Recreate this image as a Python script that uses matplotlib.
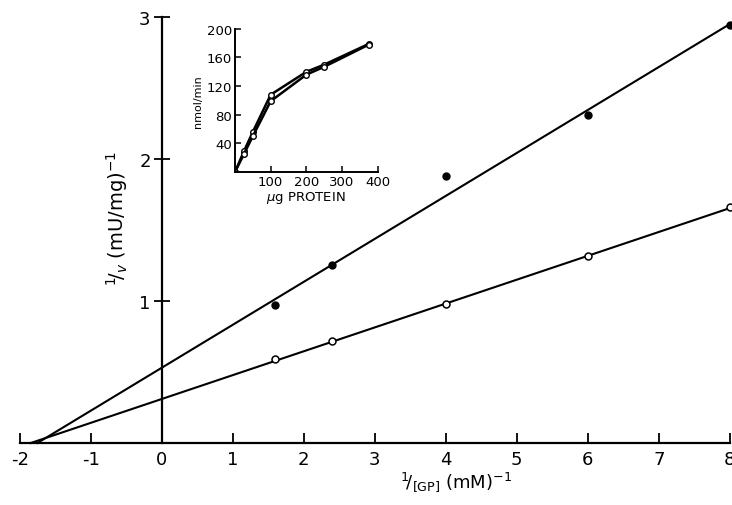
import numpy as np
import matplotlib
matplotlib.use('Agg')
import matplotlib.pyplot as plt

# Lineweaver-Burk data
inv_gp = [1.6, 2.4, 4.0, 6.0, 8.0]
inv_v_filled = [0.97, 1.25, 1.88, 2.31, 2.94]
inv_v_open = [0.59, 0.72, 0.98, 1.32, 1.66]

# fitted lines (intercept, slope)
fit_filled = (0.53, 0.3025)
fit_open = (0.31, 0.1680)

# inset: activity vs protein
protein = [0, 25, 50, 100, 200, 250, 375]
rate_a = [0, 29, 56, 108, 140, 150, 179]
rate_b = [0, 25, 50, 99, 136, 147, 178]

x_ticks = [-2, -1, 0, 1, 2, 3, 4, 5, 6, 7, 8]
y_ticks = [1, 2, 3]
inset_x_ticks = [100, 200, 300, 400]
inset_y_ticks = [40, 80, 120, 160, 200]

plt.rcParams['font.family'] = 'DejaVu Sans'

fig = plt.figure(figsize=(7.32, 5.06), dpi=100)
ax = fig.add_axes([0.027, 0.1225, 0.970, 0.842])

for (b, m) in (fit_filled, fit_open):
    x0 = -b / m
    xs = np.array([x0, 8.0])
    ax.plot(xs, b + m * xs, color='black', lw=1.5, clip_on=False)

ax.plot(inv_gp, inv_v_filled, 'o', color='black', ms=5, clip_on=False)
ax.plot(inv_gp, inv_v_open, 'o', mfc='white', mec='black', mew=1.1, ms=5,
        clip_on=False)

ax.set_xlim(-2, 8)
ax.set_ylim(0, 3)
ax.spines['left'].set_position(('data', 0))
ax.spines['top'].set_visible(False)
ax.spines['right'].set_visible(False)
for s in ('left', 'bottom'):
    ax.spines[s].set_linewidth(1.6)

ax.set_xticks(x_ticks)
ax.set_xticklabels([str(t) for t in x_ticks])
ax.set_yticks(y_ticks)
ax.tick_params(axis='x', direction='in', length=7, width=1.3, labelsize=13, pad=5)
ax.tick_params(axis='y', direction='inout', length=12, width=1.3, labelsize=13, pad=2)

ax.set_xlabel(r'$^1\!/_{[\mathrm{GP}]}$ (mM)$^{-1}$', fontsize=13)
ax.xaxis.set_label_coords(0.614, -0.062)
ax.set_ylabel(r'$^1\!/_v$ (mU/mg)$^{-1}$', fontsize=14)
ax.yaxis.set_label_coords(0.155, 0.53)

# inset
ins = fig.add_axes([0.321, 0.658, 0.195, 0.283])
ins.plot(protein, rate_a, '-o', color='black', lw=1.8, ms=4, mfc='white',
         mec='black', mew=1.0)
ins.plot(protein, rate_b, '-o', color='black', lw=1.8, ms=4, mfc='white',
         mec='black', mew=1.0)
ins.set_xlim(0, 400)
ins.set_ylim(0, 200)
ins.spines['top'].set_visible(False)
ins.spines['right'].set_visible(False)
for s in ('left', 'bottom'):
    ins.spines[s].set_linewidth(1.4)
ins.set_xticks(inset_x_ticks)
ins.set_yticks(inset_y_ticks)
ins.tick_params(direction='in', length=4, width=1.1, labelsize=9.5, pad=2)
ins.set_xlabel(r'$\mu$g PROTEIN', fontsize=9.5, labelpad=1)
ins.set_ylabel('nmol/min', fontsize=8, labelpad=3)

fig.savefig('out.png', dpi=100)
